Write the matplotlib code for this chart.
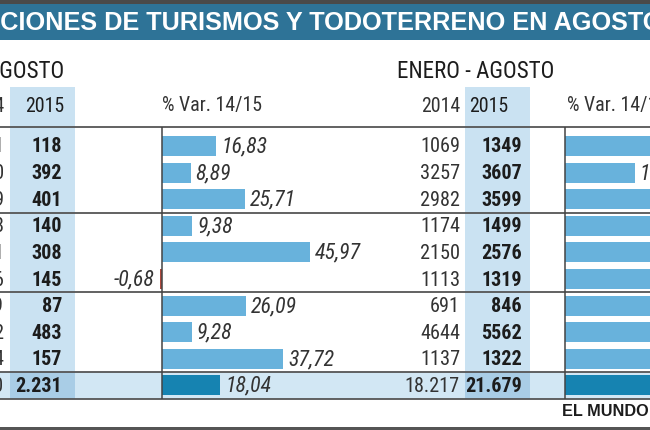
import os
import matplotlib
matplotlib.use("Agg")
import matplotlib.pyplot as plt
from matplotlib.patches import Rectangle
from matplotlib import font_manager as fm
from matplotlib.font_manager import FontProperties

# ---------------- data ----------------
title = "MATRICULACIONES DE TURISMOS Y TODOTERRENO EN AGOSTO"
title_visible = "CIONES DE TURISMOS Y TODOTERRENO EN AGOSTO"
period_left = "AGOSTO"
period_right = "ENERO - AGOSTO"
col_headers = ["2014", "2015", "% Var. 14/15"]
aug_2014 = [101, 360, 319, 128, 211, 146, 69, 442, 114]
aug_2015 = [118, 392, 401, 140, 308, 145, 87, 483, 157]
aug_var = [16.83, 8.89, 25.71, 9.38, 45.97, -0.68, 26.09, 9.28, 37.72]
aug_total = [1890, 2231, 18.04]
ytd_2014 = [1069, 3257, 2982, 1174, 2150, 1113, 691, 4644, 1137]
ytd_2015 = [1349, 3607, 3599, 1499, 2576, 1319, 846, 5562, 1322]
ytd_var = [26.19, 10.75, 20.69, 27.68, 19.81, 18.51, 22.43, 19.77, 16.27]
ytd_total = [18217, 21679, 19.00]
source = "EL MUNDO"

# ---------------- fonts: a condensed family, chosen by file if possible ----------------
entries = fm.fontManager.ttflist
by_base = {}
for f in entries:
    by_base.setdefault(os.path.splitext(os.path.basename(f.fname))[0].lower(), f.fname)

font_sets = [
    ("NotoSans-ExtraCondensed", "NotoSans-ExtraCondensedBold", "NotoSans-ExtraCondensedItalic"),
    ("RobotoCondensed-Regular", "RobotoCondensed-Bold", "RobotoCondensed-Italic"),
    ("NotoSans-Condensed", "NotoSans-CondensedBold", "NotoSans-CondensedItalic"),
]
FP_REG = FP_BOLD = FP_IT = None
for s in font_sets:
    files = [by_base.get(x.lower()) for x in s]
    if all(files):
        FP_REG, FP_BOLD, FP_IT = (FontProperties(fname=p) for p in files)
        break
if FP_REG is None:
    names = {f.name for f in entries}
    fam, stretch = "DejaVu Sans", "normal"
    for cand in ["Roboto Condensed", "Liberation Sans Narrow", "Noto Sans Condensed"]:
        if cand in names:
            fam = cand
            break
    else:
        for cand in ["Roboto", "Noto Sans", "Open Sans", "DejaVu Sans"]:
            if any(f.name == cand and (f.stretch != "normal" and f.stretch != 500) for f in entries):
                fam, stretch = cand, "condensed"
                break
    FP_REG = FontProperties(family=[fam, "DejaVu Sans"], stretch=stretch)
    FP_BOLD = FontProperties(family=[fam, "DejaVu Sans"], stretch=stretch, weight="bold")
    FP_IT = FontProperties(family=[fam, "DejaVu Sans"], stretch=stretch, style="italic")
WIDE_BOLD = FontProperties(family=["Liberation Sans", "DejaVu Sans"], weight="bold")

C_TITLE = "#2e7397"
C_COL = "#cae2f2"
C_TOTBAND = "#d2e7f4"
C_TOTCELL = "#a9cde6"
C_BAR = "#68b2dc"
C_BAR_TOT = "#1683b1"
C_NEG = "#b04a3f"
C_LINE = "#555555"
C_TXT = "#1c1c1c"
C_TXT2 = "#333333"

W, H = 650, 430
fig = plt.figure(figsize=(6.5, 4.3), dpi=100)
fig.patch.set_facecolor("white")
ax = fig.add_axes([0, 0, 1, 1])
ax.set_xlim(0, W)
ax.set_ylim(H, 0)
ax.axis("off")
r = fig.canvas.get_renderer()


def text_w(s, fp, size):
    p = fp.copy()
    p.set_size(size)
    t = ax.text(0, 0, s, fontproperties=p)
    w = t.get_window_extent(r).width
    t.remove()
    return w


def fit(s, fp, target_w):
    return 10 * target_w / text_w(s, fp, 10)


def put(x, y, s, fp, size, **kw):
    p = fp.copy()
    p.set_size(size)
    return ax.text(x, y, s, fontproperties=p, **kw)


# sizes fitted to the reference's text widths
S_BOLD = fit("21.679", FP_BOLD, 57)
S_IT = fit("16,83", FP_IT, 46)
S_HEAD = fit("% Var. 14/15", FP_REG, 100)
S_REG = S_HEAD * 1.02
S_SUB = fit("ENERO - AGOSTO", FP_REG, 158)

y0, dy = 146.0, 26.6
n = len(aug_2015)
row_y = [y0 + i * dy for i in range(n + 1)]
top_line, bot_line = 127, 399
seps = [213, 292, 372]

# backgrounds
ax.add_patch(Rectangle((0, 0), W, 4, color="#4a4a4a", lw=0))
ax.add_patch(Rectangle((0, 4), W, 36, color=C_TITLE, lw=0))
ax.add_patch(Rectangle((0, seps[2]), W, bot_line - seps[2], color=C_TOTBAND, lw=0))
for x0 in (10, 465):
    ax.add_patch(Rectangle((x0, 87), 65, seps[2] - 87, color=C_COL, lw=0))
    ax.add_patch(Rectangle((x0, seps[2]), 65, bot_line - seps[2], color=C_TOTCELL, lw=0))
ax.add_patch(Rectangle((0, 427), W, 3, color="#555555", lw=0))
ax.hlines([top_line] + seps + [bot_line], 0, W, color=C_LINE, lw=1.3)

# title (cropped on both sides like the reference)
fs_title = fit(title_visible, WIDE_BOLD, 662)
prefix = title[: len(title) - len(title_visible)]
wp = text_w(prefix, WIDE_BOLD, fs_title)
put(-wp, 23, title, WIDE_BOLD, fs_title, color="white", va="center", ha="left")

# period headers
wa = text_w(period_left[0], FP_REG, S_SUB)
put(-wa, 71, period_left, FP_REG, S_SUB, color=C_TXT, va="center")
put(397, 71, period_right, FP_REG, S_SUB, color=C_TXT, va="center")

# column headers
hy = 106
put(4, hy, col_headers[0], FP_REG, S_HEAD, color=C_TXT2, ha="right", va="center")
put(45, hy, col_headers[1], FP_REG, S_HEAD, color=C_TXT, ha="center", va="center")
put(162, hy, col_headers[2], FP_REG, S_HEAD, color=C_TXT2, ha="left", va="center")
put(460, hy, col_headers[0], FP_REG, S_HEAD, color=C_TXT2, ha="right", va="center")
put(489, hy, col_headers[1], FP_REG, S_HEAD, color=C_TXT, ha="center", va="center")
put(567, hy, col_headers[2], FP_REG, S_HEAD, color=C_TXT2, ha="left", va="center")


def fmt_int(v, total=False):
    return f"{v:,}".replace(",", ".") if total else str(v)


def fmt_pct(v):
    return f"{v:.2f}".replace(".", ",")


# numeric columns
for i in range(n + 1):
    tot = i == n
    a14 = aug_total[0] if tot else aug_2014[i]
    a15 = aug_total[1] if tot else aug_2015[i]
    y14 = ytd_total[0] if tot else ytd_2014[i]
    y15 = ytd_total[1] if tot else ytd_2015[i]
    yy = row_y[i] + 1
    put(4, yy, fmt_int(a14, tot), FP_REG, S_REG, color=C_TXT2, ha="right", va="center")
    put(62, yy, fmt_int(a15, tot), FP_BOLD, S_BOLD, color=C_TXT, ha="right", va="center")
    put(460, yy, fmt_int(y14, tot), FP_REG, S_REG, color=C_TXT2, ha="right", va="center")
    put(522, yy, fmt_int(y15, tot), FP_BOLD, S_BOLD, color=C_TXT, ha="right", va="center")


# bar panels
def bar_panel(x_zero, px_per_unit, values, total):
    a = fig.add_axes([0, 0, 1, 1])
    xmax = (W - x_zero) / px_per_unit
    a.set_xlim(-x_zero / px_per_unit, xmax)
    a.set_ylim(H, 0)
    a.axis("off")
    a.patch.set_alpha(0)
    cols = [C_BAR if v >= 0 else C_NEG for v in values]
    a.barh(row_y[:n], values, height=20, color=cols, lw=0)
    a.barh(row_y[n], total, height=20, color=C_BAR_TOT, lw=0)
    a.vlines(0, top_line, bot_line, color="#444444", lw=1.1)
    p = FP_IT.copy()
    p.set_size(S_IT)
    for v, y in zip(list(values) + [total], row_y):
        if v >= xmax:
            continue  # label lies beyond the cropped edge, as in the reference
        a.annotate(fmt_pct(v), (v, y + 1), xytext=(3.5 if v >= 0 else -3.5, 0),
                   textcoords="offset points", ha="left" if v >= 0 else "right",
                   va="center", fontproperties=p, color=C_TXT2, annotation_clip=False)
    return a


bar_panel(162, 3.22, aug_var, aug_total[2])
bar_panel(565, 6.5, ytd_var, ytd_total[2])

put(562, 412, source, WIDE_BOLD, 11.7, color=C_TXT, ha="left", va="center")

fig.savefig("out.png", dpi=100)
